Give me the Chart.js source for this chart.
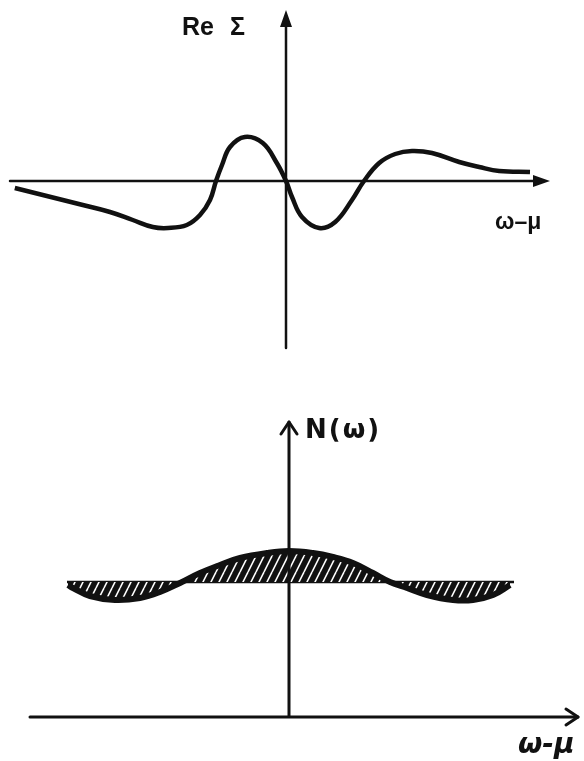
<!DOCTYPE html>
<html>
<head>
<meta charset="utf-8">
<script src="https://cdn.jsdelivr.net/npm/chart.js@4"></script>
<style>
  html, body { margin: 0; padding: 0; background: #fff; }
  body { width: 584px; height: 761px; position: relative; overflow: hidden; }
  canvas { position: absolute; left: 0; }
  #reSigma { top: 0; }
  #dos { top: 380px; }
</style>
</head>
<body>
<canvas id="reSigma" width="584" height="380"></canvas>
<canvas id="dos" width="584" height="381"></canvas>
<script>
// Re Σ(ω−μ): real part of the self-energy
const reSigmaX = [-6.78, -6.08, -5.08, -4.4, -3.83, -3.33, -2.95, -2.48, -2.15, -1.9, -1.75, -1.6, -1.4, -1.03, -0.58, -0.23, 0,
  0.15, 0.4, 0.83, 1.23, 1.65, 1.95, 2.33, 2.73, 3.15, 3.65, 4.33, 4.83, 5.33, 6.1];
const reSigmaY = [-0.7, -1.4, -2.4, -3.1, -3.9, -4.6, -4.7, -4.4, -3.4, -1.9, 0, 1.6, 3.4, 4.4, 3.8, 1.8, 0,
  -1.6, -3.6, -4.7, -4.1, -1.9, 0, 1.8, 2.7, 3.0, 2.8, 1.9, 1.4, 1.0, 0.9];

// N(ω): density of states around the chemical potential
const dosX = [-2.21, -2.16, -1.99, -1.74, -1.49, -1.29, -1.09, -0.89, -0.69, -0.49, -0.22, 0,
  0.24, 0.44, 0.64, 0.84, 1.01, 1.18, 1.38, 1.64, 1.84, 2.04, 2.21];
const dosN = [1.32, 1.29, 1.21, 1.17, 1.19, 1.25, 1.34, 1.44, 1.52, 1.59, 1.64, 1.66,
  1.64, 1.60, 1.54, 1.44, 1.35, 1.29, 1.22, 1.17, 1.17, 1.22, 1.32];

// unperturbed (flat) level and its extent
const flatN = 1.35;
const flatX = [-2.22, 2.25];

const INK = '#111';

const pts = (xs, ys) => xs.map((x, i) => ({ x, y: ys[i] }));

// dark fill with thin white diagonal slashes
function hatch() {
  const c = document.createElement('canvas');
  c.width = 8; c.height = 16;
  const g = c.getContext('2d');
  g.fillStyle = INK;
  g.fillRect(0, 0, 8, 16);
  g.strokeStyle = '#fff';
  g.lineWidth = 1.6;
  for (const o of [-8, 0, 8]) {
    g.beginPath(); g.moveTo(o, 16); g.lineTo(o + 8, 0); g.stroke();
  }
  return g.createPattern(c, 'repeat');
}

// axes through the origin with arrow heads, plus free labels
const axisArrows = {
  id: 'axisArrows',
  afterDatasetsDraw(chart, _args, o) {
    const { ctx, scales: { x, y } } = chart;
    const x0 = x.getPixelForValue(0), y0 = y.getPixelForValue(0);
    const left = x.getPixelForValue(o.xFrom), right = x.getPixelForValue(o.xTo);
    const bottom = y.getPixelForValue(o.yFrom), top = y.getPixelForValue(o.yTo);
    const h = o.head, w = o.half;
    ctx.save();
    ctx.strokeStyle = INK; ctx.fillStyle = INK;
    ctx.lineWidth = o.width;
    ctx.lineCap = 'round'; ctx.lineJoin = 'round';
    ctx.beginPath();
    ctx.moveTo(left, y0); ctx.lineTo(o.solid ? right - h + 1 : right, y0);
    ctx.moveTo(x0, bottom); ctx.lineTo(x0, o.solid ? top + h - 1 : top);
    ctx.stroke();
    ctx.beginPath();
    if (o.solid) {
      ctx.moveTo(right, y0); ctx.lineTo(right - h, y0 - w); ctx.lineTo(right - h, y0 + w); ctx.closePath();
      ctx.moveTo(x0, top); ctx.lineTo(x0 - w, top + h); ctx.lineTo(x0 + w, top + h); ctx.closePath();
      ctx.fill();
    } else {
      ctx.moveTo(right - h, y0 - w); ctx.lineTo(right, y0); ctx.lineTo(right - h, y0 + w);
      ctx.moveTo(x0 - w, top + h); ctx.lineTo(x0, top); ctx.lineTo(x0 + w, top + h);
      ctx.stroke();
    }
    ctx.restore();
  },
  afterDraw(chart, _args, o) {
    const ctx = chart.ctx;
    ctx.save();
    ctx.fillStyle = INK;
    ctx.textBaseline = 'alphabetic';
    for (const l of o.labels || []) {
      ctx.font = l.font;
      ctx.letterSpacing = l.spacing || '0px';
      ctx.fillText(l.text, l.x, l.y);
    }
    ctx.restore();
  }
};

Chart.register(axisArrows);

function baseOptions(xr, yr) {
  return {
    responsive: false,
    animation: false,
    devicePixelRatio: 1,
    layout: { padding: 0 },
    events: [],
    elements: { point: { radius: 0 }, line: { tension: 0.4 } },
    scales: {
      x: { type: 'linear', display: false, min: xr[0], max: xr[1] },
      y: { type: 'linear', display: false, min: yr[0], max: yr[1] }
    },
    plugins: { legend: { display: false }, tooltip: { enabled: false } }
  };
}

const topOpts = baseOptions([-7.15, 7.45], [-19.9, 18.1]);
topOpts.plugins.axisArrows = {
  xFrom: -6.9, xTo: 6.6, yFrom: -16.7, yTo: 17.1,
  width: 2.5, head: 17, half: 6, solid: true,
  labels: [
    { text: 'Re', x: 182, y: 35, font: 'bold 25px "Liberation Sans", Arial, sans-serif' },
    { text: 'Σ', x: 230, y: 35, font: 'bold 25px "Liberation Sans", Arial, sans-serif' },
    { text: 'ω–μ', x: 495, y: 229, font: 'bold 23px "Liberation Sans", Arial, sans-serif' }
  ]
};

new Chart(document.getElementById('reSigma'), {
  type: 'line',
  data: {
    datasets: [{
      data: pts(reSigmaX, reSigmaY),
      borderColor: INK,
      borderWidth: 4.5,
      fill: false
    }]
  },
  options: topOpts
});

const botOpts = baseOptions([-2.89, 2.95], [-0.44, 3.37]);
botOpts.plugins.axisArrows = {
  xFrom: -2.59, xTo: 2.89, yFrom: 0, yTo: 2.95,
  width: 3, head: 12, half: 8, solid: false,
  labels: [
    { text: 'N(ω)', x: 305, y: 58, font: 'bold 26px "DejaVu Sans", sans-serif', spacing: '2px' },
    { text: 'ω-μ', x: 518, y: 373, font: 'italic bold 28px "DejaVu Sans", sans-serif' }
  ]
};

new Chart(document.getElementById('dos'), {
  type: 'line',
  data: {
    datasets: [{
      data: pts(dosX, dosN),
      borderColor: INK,
      borderWidth: 6,
      backgroundColor: hatch(),
      fill: { value: flatN }
    }, {
      data: pts(flatX, [flatN, flatN]),
      borderColor: INK,
      borderWidth: 2.5,
      fill: false
    }]
  },
  options: botOpts
});
</script>
</body>
</html>
